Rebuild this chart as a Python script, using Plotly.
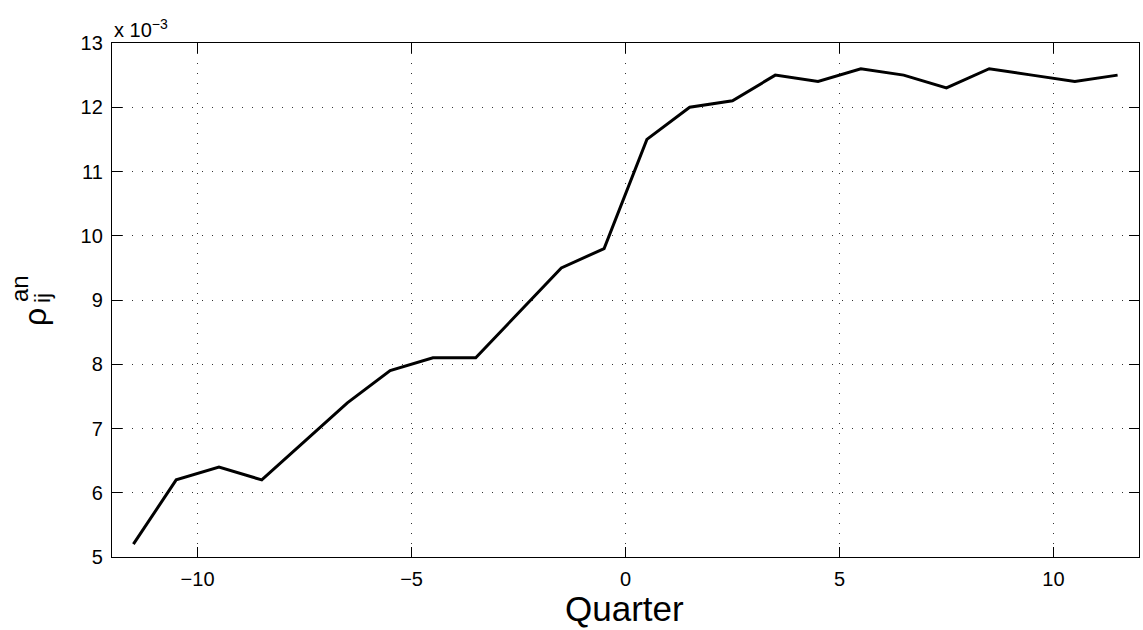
import plotly.graph_objects as go

# Quarter offsets relative to the event, and the measured coefficient (units of 1e-3)
quarters = [-11.5, -10.5, -9.5, -8.5, -7.5, -6.5, -5.5, -4.5, -3.5, -2.5, -1.5, -0.5,
            0.5, 1.5, 2.5, 3.5, 4.5, 5.5, 6.5, 7.5, 8.5, 9.5, 10.5, 11.5]
rho_an = [5.2, 6.2, 6.4, 6.2, 6.8, 7.4, 7.9, 8.1, 8.1, 8.8, 9.5, 9.8,
          11.5, 12.0, 12.1, 12.5, 12.4, 12.6, 12.5, 12.3, 12.6, 12.5, 12.4, 12.5]

x_ticks = [-10, -5, 0, 5, 10]
y_ticks = [5, 6, 7, 8, 9, 10, 11, 12, 13]

FONT = "Liberation Sans, Arial, Helvetica, sans-serif"
PLOT_LEFT, PLOT_TOP, PLOT_BOTTOM = 112, 43, 557  # pixel edges of the axes box


def paper_y(py):
    return (PLOT_BOTTOM - py) / (PLOT_BOTTOM - PLOT_TOP)


fig = go.Figure()
fig.add_trace(go.Scatter(
    x=quarters, y=rho_an, mode="lines",
    line=dict(color="black", width=3),
    showlegend=False, hoverinfo="skip",
))

axis_common = dict(
    showline=True, linecolor="black", linewidth=1.3, mirror="ticks",
    ticks="inside", ticklen=10, tickwidth=1, tickcolor="black",
    showgrid=True, gridcolor="rgba(0,0,0,0.8)", gridwidth=1, griddash="1px,9px",
    zeroline=False,
    tickfont=dict(family=FONT, size=20, color="black"),
)

fig.update_xaxes(range=[-12, 12], tickvals=x_ticks, ticklabelstandoff=4, **axis_common)
fig.update_yaxes(range=[5, 13], tickvals=y_ticks, ticklabelstandoff=4, **axis_common)

annotations = [
    # exponent multiplier above the y axis
    dict(text="x 10<sup>−3</sup>", xref="paper", yref="paper", x=0, y=1,
         xanchor="left", yanchor="bottom", showarrow=False,
         font=dict(family=FONT, size=20, color="black")),
    # x-axis title
    dict(text="Quarter", xref="paper", yref="paper", x=0.4995, y=0,
         xanchor="center", yanchor="top", yshift=-30, showarrow=False,
         font=dict(family=FONT, size=35, color="black")),
]

# y-axis label: rho with stacked superscript "an" and subscript "ij", rotated
label_parts = [
    # (text, font size, centre column, centre row)
    ("ρ", 32, 35, 317),
    ("an", 24, 19, 289),
    ("ij", 22, 42, 298),
]
for text, size, cx, cy in label_parts:
    annotations.append(dict(
        text=text, xref="paper", yref="paper", x=0, y=paper_y(cy),
        xshift=cx - PLOT_LEFT, xanchor="center", yanchor="middle",
        textangle=-90, showarrow=False,
        font=dict(family=FONT, size=size, color="black"),
    ))

fig.update_layout(
    width=1143, height=630,
    margin=dict(l=PLOT_LEFT, r=4, t=PLOT_TOP, b=630 - PLOT_BOTTOM),
    paper_bgcolor="white", plot_bgcolor="white",
    annotations=annotations,
)

fig.write_html("out.html")
